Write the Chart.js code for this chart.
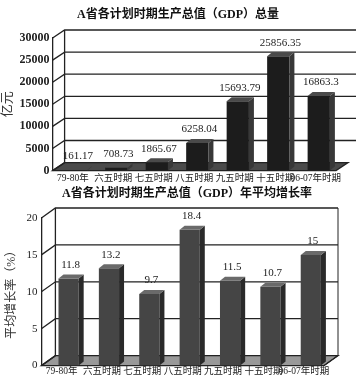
<!DOCTYPE html>
<html><head><meta charset="utf-8">
<script src="https://cdn.jsdelivr.net/npm/chart.js@4"></script>
<style>
html,body{margin:0;padding:0;background:#fff;width:356px;height:377px;overflow:hidden}
#w1{position:absolute;left:0;top:0;width:356px;height:186px}
#w2{position:absolute;left:0;top:186px;width:356px;height:191px}
</style></head><body>
<div id="w1"><canvas id="c1"></canvas></div>
<div id="w2"><canvas id="c2"></canvas></div>
<script>
const categoriesGDP = ["79-80年","六五时期","七五时期","八五时期","九五时期","十五时期","06-07年时期"];
const valuesGDP = [161.17, 708.73, 1865.67, 6258.04, 15693.79, 25856.35, 16863.3];
const labelsGDP = ["161.17","708.73","1865.67","6258.04","15693.79","25856.35","16863.3"];
const categoriesRate = ["79-80年","六五时期","七五时期","八五时期","九五时期","十五时期","06-07年时期"];
const valuesRate = [11.8, 13.2, 9.7, 18.4, 11.5, 10.7, 15];
const labelsRate = ["11.8","13.2","9.7","18.4","11.5","10.7","15"];
const ticksGDP = [0,5000,10000,15000,20000,25000,30000];
const ticksRate = [0,5,10,15,20];

const SERIF = '"Liberation Serif","DejaVu Serif","Noto Sans CJK SC",serif';
const CJK = '"Liberation Serif","Noto Sans CJK SC",serif';

function make3D(o){
  const dx=o.dx, dy=o.dy;
  return {
    id:'three',
    beforeDatasetsDraw(chart){
      const {ctx, chartArea:a, scales:{y}} = chart;
      ctx.save();
      ctx.fillStyle = o.floor;
      ctx.beginPath();
      ctx.moveTo(a.left, a.bottom);
      ctx.lineTo(a.right, a.bottom);
      ctx.lineTo(a.right+dx, a.bottom-dy);
      ctx.lineTo(a.left+dx, a.bottom-dy);
      ctx.closePath(); ctx.fill();
      ctx.strokeStyle = '#222'; ctx.lineWidth = 1.3;
      ctx.stroke();
      y.ticks.forEach(t=>{
        const py = y.getPixelForValue(t.value);
        ctx.beginPath();
        ctx.moveTo(a.left, py);
        ctx.lineTo(a.left+dx, py-dy);
        if (t.value!==0) ctx.lineTo(a.right+dx+o.ext, py-dy);
        ctx.stroke();
      });
      ctx.beginPath();
      ctx.moveTo(a.left+dx, a.top-dy);
      ctx.lineTo(a.left+dx, a.bottom-dy);
      ctx.stroke();
      if (o.rightFrame){
        ctx.lineWidth = 1;
        ctx.beginPath();
        ctx.moveTo(a.right+dx, a.top-dy);
        ctx.lineTo(a.right+dx, a.bottom-dy);
        ctx.lineTo(a.right, a.bottom);
        ctx.stroke();
      }
      ctx.restore();
    },
    beforeDatasetDraw(chart){ chart.ctx.save(); chart.ctx.translate(o.sx, 0); },
    afterDatasetDraw(chart){ chart.ctx.restore(); },
    afterDatasetsDraw(chart){
      const {ctx} = chart;
      const meta = chart.getDatasetMeta(0);
      const labels = chart.data.datasets[0].valueLabels;
      ctx.save();
      ctx.translate(o.sx, 0);
      meta.data.forEach((b,i)=>{
        const w = b.width, x0 = b.x-w/2, x1 = b.x+w/2, yt = b.y, yb = b.base;
        const d = o.bd, e = o.be;
        ctx.fillStyle = o.side;
        ctx.beginPath();
        ctx.moveTo(x1, yt); ctx.lineTo(x1+d, yt-e); ctx.lineTo(x1+d, yb-e); ctx.lineTo(x1, yb);
        ctx.closePath(); ctx.fill();
        ctx.fillStyle = o.top;
        ctx.beginPath();
        ctx.moveTo(x0, yt); ctx.lineTo(x0+d, yt-e); ctx.lineTo(x1+d, yt-e); ctx.lineTo(x1, yt);
        ctx.closePath(); ctx.fill();
        ctx.fillStyle = '#222';
        ctx.font = o.lfs + 'px ' + SERIF;
        ctx.textAlign = 'center'; ctx.textBaseline = 'bottom';
        ctx.fillText(labels[i], b.x+2, yt-o.loff);
      });
      ctx.restore();
    },
    afterDraw(chart){
      const ctx = chart.ctx;
      ctx.save();
      ctx.fillStyle = '#111';
      ctx.font = 'bold 12px ' + CJK;
      ctx.textAlign = 'center'; ctx.textBaseline = 'middle';
      ctx.fillText(o.title, o.tx, o.ty);
      ctx.restore();
    }
  };
}

function cfg(cats, vals, labs, ticks, max, yTitle, o){
  return {
    type:'bar',
    data:{labels:cats, datasets:[{data:vals, valueLabels:labs, backgroundColor:o.front,
      barPercentage:o.bp, categoryPercentage:1}]},
    options:{
      responsive:true, maintainAspectRatio:false, animation:false,
      layout:{padding:o.pad},
      plugins:{legend:{display:false}, tooltip:{enabled:false}, title:{display:false}},
      scales:{
        x:{grid:{display:false, drawTicks:false}, border:{display:false},
          ticks:{color:'#222', font:{family:CJK, size:o.xfs}, padding:o.xpad, maxRotation:0, autoSkip:false}},
        y:{min:0, max:max, afterBuildTicks(s){s.ticks = ticks.map(v=>({value:v}));},
          grid:{display:false, drawTicks:false}, border:{display:true, color:'#222', width:1.3},
          ticks:{color:'#222', font:{family:SERIF, size:o.yfs, weight:o.yw}, padding:o.ytick, callback:v=>String(v)},
          title:{display:true, text:yTitle, color:'#333', font:{family:CJK, size:o.ytfs}, padding:{top:0,bottom:o.ytpad}}}
      }
    },
    plugins:[make3D(o)]
  };
}

new Chart(document.getElementById('c1'), cfg(categoriesGDP, valuesGDP, labelsGDP, ticksGDP, 30000, '亿元',
  {title:'A省各计划时期生产总值（GDP）总量', tx:178, ty:15,
   front:'#1c1c1c', side:'#383838', top:'#4a4a4a', floor:'#4a4a4a', bp:0.55,
   pad:{left:0, right:20, top:38, bottom:0}, xfs:9.5, xpad:2, yfs:12, yw:'bold', ytfs:13, ytpad:1, ytick:3,
   dx:12, dy:8, ext:10, rightFrame:false, bd:5, be:4, lfs:11, loff:8, sx:3}));

new Chart(document.getElementById('c2'), cfg(categoriesRate, valuesRate, labelsRate, ticksRate, 20, '平均增长率（%）',
  {title:'A省各计划时期生产总值（GDP）年平均增长率', tx:187, ty:8,
   front:'#454545', side:'#2a2a2a', top:'#6a6a6a', floor:'#999', bp:0.5,
   pad:{left:5, right:32, top:32, bottom:0}, xfs:9.5, xpad:0, yfs:11, yw:'normal', ytfs:12, ytpad:3, ytick:4,
   dx:14, dy:10, ext:0, rightFrame:true, bd:5, be:4, lfs:11, loff:8, sx:7}));
</script>
</body></html>
